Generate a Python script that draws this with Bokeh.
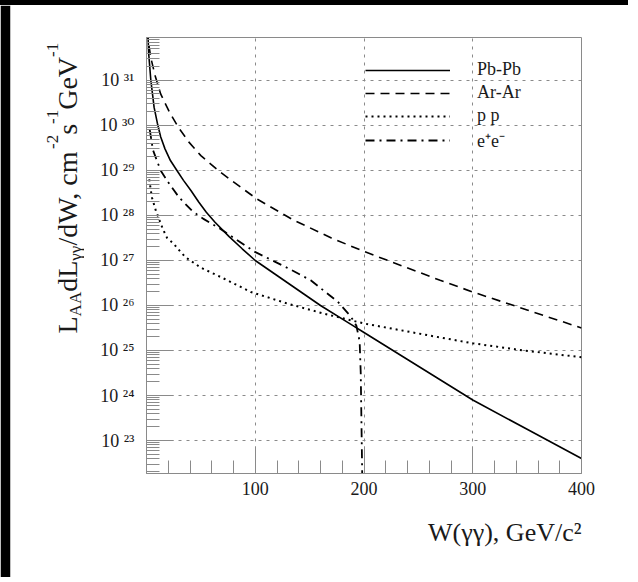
import numpy as np
from bokeh.plotting import figure
from bokeh.models import (FixedTicker, CustomJSTickFormatter, Legend, LegendItem, Range1d,
                          Title, Div, ColumnDataSource)
from bokeh.layouts import column, row
from bokeh.core.properties import value
from bokeh.embed import file_html
from bokeh.resources import INLINE

# ---------------- data ----------------
pbpb_w = [1.2, 2, 4, 7, 10, 13, 17, 22, 28, 34, 41, 48, 55, 63, 76, 88, 100, 130, 160, 188, 200,
          240, 270, 300, 350, 400]
pbpb_log10 = [32.1, 31.6, 31.0, 30.4, 30.05, 29.75, 29.48, 29.22, 29.0, 28.78, 28.55, 28.3, 28.07,
              27.85, 27.53, 27.26, 27.0, 26.5, 26.0, 25.58, 25.4, 24.8, 24.35, 23.9, 23.25, 22.6]

arar_w = [1.0, 1.5, 4, 8, 13, 21, 29, 39, 50, 67, 87, 102, 135, 170, 200, 270, 300, 350, 400]
arar_log10 = [32.1, 31.9, 31.5, 31.1, 30.7, 30.3, 29.97, 29.63, 29.33, 28.98, 28.62, 28.36, 27.9,
              27.5, 27.2, 26.56, 26.3, 25.9, 25.5]

pp_w = [2.5, 5, 8.7, 15, 19, 25, 31, 36, 50, 71, 96, 130, 163, 200, 270, 300, 347, 400]
pp_log10 = [28.8, 28.4, 28.1, 27.7, 27.5, 27.37, 27.2, 27.07, 26.84, 26.6, 26.3, 26.04, 25.82,
            25.6, 25.29, 25.16, 25.0, 24.85]

ee_w = [3, 6, 13, 21, 30, 42, 52, 66, 93, 99, 130, 151, 176, 188, 193, 196, 197, 198.5]
ee_log10 = [29.9, 29.45, 29.0, 28.7, 28.4, 28.1, 27.93, 27.73, 27.3, 27.2, 26.83, 26.56, 26.08,
            25.75, 25.55, 25.2, 24.5, 22.0]

series_labels = ["Pb-Pb", "Ar-Ar", "p p", "e\u207ae\u207b"]

x_major_ticks = [100, 200, 300, 400]
x_minor_ticks = [20, 40, 60, 80, 120, 140, 160, 180, 220, 240, 260, 280, 320, 340, 360, 380]
x_grid_ticks = [100, 200, 300]
y_decades = [23, 24, 25, 26, 27, 28, 29, 30, 31]
y_tick_labels = ["10 \u00b2\u00b3", "10 \u00b2\u2074", "10 \u00b2\u2075", "10 \u00b2\u2076",
                 "10 \u00b2\u2077", "10 \u00b2\u2078", "10 \u00b2\u2079", "10 \u00b3\u2070",
                 "10 \u00b3\u00b9"]
x_title = "W(\u03b3\u03b3), GeV/c\u00b2"
y_title_pieces = [("L", "main"), ("AA", "sub"), ("dL", "main"), ("\u03b3\u03b3", "sub"),
                  ("/dW, cm", "main"), ("-2", "sup"), ("s", "main"), ("-1", "sup"),
                  ("GeV", "main"), ("-1", "sup")]

# ---------------- styling ----------------
FONT = "Liberation Serif"
TICK_FONT = "Liberation Serif, DejaVu Serif"
GRAY = "#8a8a8a"
INK = "#1a1a1a"
H = 572

# ---------------- y-title panel ----------------
tp = figure(width=84, height=H, x_range=Range1d(0, 74), y_range=Range1d(0, H),
            min_border_left=10, min_border_right=0, min_border_top=0, min_border_bottom=0,
            toolbar_location=None, output_backend="svg", x_axis_location=None,
            y_axis_location=None, border_fill_color="black", background_fill_color="white",
            outline_line_color=None)
tp.grid.visible = False
tp.frame_align = False

EM = {"L": .611, "A": .722, "d": .5, "\u03b3": .45, "/": .278, "W": .944, ",": .25, " ": .25,
      "c": .444, "m": .778, "-": .333, "2": .5, "1": .5, "s": .389, "G": .722, "e": .444, "V": .722}
SIZE = {"main": 28, "sub": 17, "sup": 17}
SHIFT = {"main": 0, "sub": 8, "sup": -15}
tx, ty, tt, ts = [], [], [], []
pos = H - 328.0
for txt, kind in y_title_pieces:
    tx.append(57.0 + SHIFT[kind])
    ty.append(pos)
    tt.append(txt)
    ts.append(f"{SIZE[kind]}px")
    pos += sum(EM.get(ch, .5) for ch in txt) * SIZE[kind]
tp.text(x="x", y="y", text="text", text_font_size="size",
        source=ColumnDataSource(dict(x=tx, y=ty, text=tt, size=ts)),
        angle=np.pi / 2, text_align="left", text_baseline="alphabetic",
        text_font=value(FONT), text_color=INK)

# ---------------- main plot ----------------
p = figure(width=544, height=H, x_range=Range1d(0, 400), y_range=Range1d(1.85e22, 9.0e31),
           y_axis_type="log", output_backend="svg", toolbar_location=None,
           min_border_left=62, min_border_right=47, min_border_top=32, min_border_bottom=H - 468,
           background_fill_color="white", border_fill_color="white")
p.frame_align = False
p.outline_line_color = GRAY
p.outline_line_width = 1

p.xgrid.ticker = FixedTicker(ticks=x_grid_ticks)
p.ygrid.ticker = FixedTicker(ticks=[10.0 ** d for d in y_decades])
for g in (p.xgrid, p.ygrid):
    g.grid_line_color = GRAY
    g.grid_line_dash = "3 5"
    g.grid_line_width = 1

p.xaxis.ticker = FixedTicker(ticks=x_major_ticks, minor_ticks=x_minor_ticks)
p.yaxis.ticker = FixedTicker(ticks=[10.0 ** d for d in y_decades],
                             minor_ticks=[k * 10.0 ** d for d in range(22, 32) for k in range(2, 10)])
p.yaxis.formatter = CustomJSTickFormatter(
    args=dict(labels=y_tick_labels, first=y_decades[0]),
    code="const i = Math.round(Math.log10(tick)) - first; return labels[i];")
for ax in (p.xaxis[0], p.yaxis[0]):
    ax.axis_line_color = GRAY
    ax.major_tick_line_color = GRAY
    ax.minor_tick_line_color = GRAY
    ax.major_tick_in = 27
    ax.major_tick_out = 0
    ax.minor_tick_in = 13
    ax.minor_tick_out = 0
    ax.major_label_text_font = TICK_FONT
    ax.major_label_text_font_size = "18px"
    ax.major_label_text_color = INK
p.xaxis.major_label_standoff = 8
p.yaxis.major_label_standoff = 12

def ys(logs):
    return [10.0 ** v for v in logs]

r1 = p.line(pbpb_w, ys(pbpb_log10), line_color="black", line_width=1.6)
r2 = p.line(arar_w, ys(arar_log10), line_color="black", line_width=1.6, line_dash="9 6")
r3 = p.line(pp_w, ys(pp_log10), line_color="black", line_width=2.0, line_dash="2 4")
r4 = p.line(ee_w, ys(ee_log10), line_color="black", line_width=1.8, line_dash="9 5 2 5")

legend = Legend(items=[LegendItem(label=lab, renderers=[r])
                       for lab, r in zip(series_labels, [r1, r2, r3, r4])],
                location=(219, 321), orientation="vertical",
                glyph_width=85, glyph_height=20, label_height=20, spacing=2,
                label_standoff=27, padding=0, margin=0,
                background_fill_alpha=0, border_line_alpha=0,
                label_text_font=FONT, label_text_font_size="18px", label_text_color=INK)
p.add_layout(legend)

p.add_layout(Title(text=x_title, align="right", text_font=FONT, text_font_size="26px",
                   text_font_style="normal", text_color=INK, standoff=37), "below")

layout = column(Div(width=628, height=5, margin=0, styles={"background-color": "black"}),
                row(tp, p, margin=0), margin=0)

open("out.html", "w").write(file_html(layout, INLINE))
